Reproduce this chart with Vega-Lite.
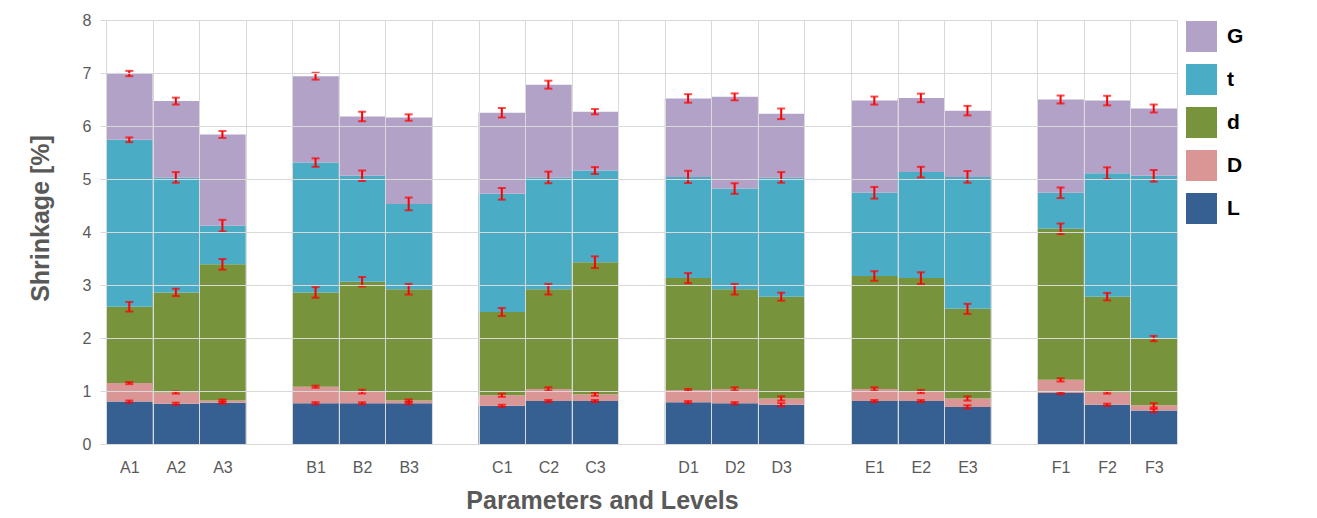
{
  "$schema": "https://vega.github.io/schema/vega-lite/v6.json",
  "width": 1071,
  "height": 424,
  "autosize": {"type": "none"},
  "padding": {"left": 106, "top": 20, "right": 140, "bottom": 74},
  "background": "white",
  "config": {"font": "Liberation Sans", "view": {"stroke": null}},
  "data": {"values": [
    {"level":"A1","comp":"L","ord":1,"value":0.80,"err":0.02},
    {"level":"A1","comp":"D","ord":2,"value":0.35,"err":0.02},
    {"level":"A1","comp":"d","ord":3,"value":1.44,"err":0.09},
    {"level":"A1","comp":"t","ord":4,"value":3.15,"err":0.045},
    {"level":"A1","comp":"G","ord":5,"value":1.25,"err":0.05},
    {"level":"A2","comp":"L","ord":1,"value":0.76,"err":0.02},
    {"level":"A2","comp":"D","ord":2,"value":0.21,"err":0.02},
    {"level":"A2","comp":"d","ord":3,"value":1.89,"err":0.07},
    {"level":"A2","comp":"t","ord":4,"value":2.17,"err":0.1},
    {"level":"A2","comp":"G","ord":5,"value":1.44,"err":0.065},
    {"level":"A3","comp":"L","ord":1,"value":0.78,"err":0.02},
    {"level":"A3","comp":"D","ord":2,"value":0.04,"err":0.02},
    {"level":"A3","comp":"d","ord":3,"value":2.57,"err":0.1},
    {"level":"A3","comp":"t","ord":4,"value":0.73,"err":0.11},
    {"level":"A3","comp":"G","ord":5,"value":1.72,"err":0.065},
    {"level":"B1","comp":"L","ord":1,"value":0.77,"err":0.02},
    {"level":"B1","comp":"D","ord":2,"value":0.31,"err":0.02},
    {"level":"B1","comp":"d","ord":3,"value":1.78,"err":0.1},
    {"level":"B1","comp":"t","ord":4,"value":2.45,"err":0.08},
    {"level":"B1","comp":"G","ord":5,"value":1.63,"err":0.065},
    {"level":"B2","comp":"L","ord":1,"value":0.77,"err":0.02},
    {"level":"B2","comp":"D","ord":2,"value":0.22,"err":0.035},
    {"level":"B2","comp":"d","ord":3,"value":2.07,"err":0.09},
    {"level":"B2","comp":"t","ord":4,"value":2.00,"err":0.1},
    {"level":"B2","comp":"G","ord":5,"value":1.12,"err":0.09},
    {"level":"B3","comp":"L","ord":1,"value":0.77,"err":0.02},
    {"level":"B3","comp":"D","ord":2,"value":0.05,"err":0.02},
    {"level":"B3","comp":"d","ord":3,"value":2.10,"err":0.1},
    {"level":"B3","comp":"t","ord":4,"value":1.61,"err":0.12},
    {"level":"B3","comp":"G","ord":5,"value":1.63,"err":0.06},
    {"level":"C1","comp":"L","ord":1,"value":0.72,"err":0.02},
    {"level":"C1","comp":"D","ord":2,"value":0.20,"err":0.03},
    {"level":"C1","comp":"d","ord":3,"value":1.57,"err":0.075},
    {"level":"C1","comp":"t","ord":4,"value":2.23,"err":0.11},
    {"level":"C1","comp":"G","ord":5,"value":1.53,"err":0.09},
    {"level":"C2","comp":"L","ord":1,"value":0.81,"err":0.02},
    {"level":"C2","comp":"D","ord":2,"value":0.23,"err":0.03},
    {"level":"C2","comp":"d","ord":3,"value":1.88,"err":0.1},
    {"level":"C2","comp":"t","ord":4,"value":2.11,"err":0.11},
    {"level":"C2","comp":"G","ord":5,"value":1.75,"err":0.075},
    {"level":"C3","comp":"L","ord":1,"value":0.81,"err":0.02},
    {"level":"C3","comp":"D","ord":2,"value":0.13,"err":0.03},
    {"level":"C3","comp":"d","ord":3,"value":2.49,"err":0.11},
    {"level":"C3","comp":"t","ord":4,"value":1.73,"err":0.065},
    {"level":"C3","comp":"G","ord":5,"value":1.11,"err":0.05},
    {"level":"D1","comp":"L","ord":1,"value":0.79,"err":0.02},
    {"level":"D1","comp":"D","ord":2,"value":0.23,"err":0.02},
    {"level":"D1","comp":"d","ord":3,"value":2.11,"err":0.095},
    {"level":"D1","comp":"t","ord":4,"value":1.91,"err":0.115},
    {"level":"D1","comp":"G","ord":5,"value":1.48,"err":0.08},
    {"level":"D2","comp":"L","ord":1,"value":0.77,"err":0.02},
    {"level":"D2","comp":"D","ord":2,"value":0.27,"err":0.03},
    {"level":"D2","comp":"d","ord":3,"value":1.88,"err":0.1},
    {"level":"D2","comp":"t","ord":4,"value":1.90,"err":0.1},
    {"level":"D2","comp":"G","ord":5,"value":1.73,"err":0.065},
    {"level":"D3","comp":"L","ord":1,"value":0.74,"err":0.03},
    {"level":"D3","comp":"D","ord":2,"value":0.12,"err":0.04},
    {"level":"D3","comp":"d","ord":3,"value":1.92,"err":0.075},
    {"level":"D3","comp":"t","ord":4,"value":2.25,"err":0.1},
    {"level":"D3","comp":"G","ord":5,"value":1.20,"err":0.1},
    {"level":"E1","comp":"L","ord":1,"value":0.81,"err":0.02},
    {"level":"E1","comp":"D","ord":2,"value":0.23,"err":0.03},
    {"level":"E1","comp":"d","ord":3,"value":2.13,"err":0.09},
    {"level":"E1","comp":"t","ord":4,"value":1.57,"err":0.11},
    {"level":"E1","comp":"G","ord":5,"value":1.74,"err":0.075},
    {"level":"E2","comp":"L","ord":1,"value":0.81,"err":0.02},
    {"level":"E2","comp":"D","ord":2,"value":0.18,"err":0.03},
    {"level":"E2","comp":"d","ord":3,"value":2.14,"err":0.11},
    {"level":"E2","comp":"t","ord":4,"value":2.00,"err":0.1},
    {"level":"E2","comp":"G","ord":5,"value":1.40,"err":0.08},
    {"level":"E3","comp":"L","ord":1,"value":0.70,"err":0.03},
    {"level":"E3","comp":"D","ord":2,"value":0.16,"err":0.04},
    {"level":"E3","comp":"d","ord":3,"value":1.69,"err":0.095},
    {"level":"E3","comp":"t","ord":4,"value":2.49,"err":0.11},
    {"level":"E3","comp":"G","ord":5,"value":1.25,"err":0.09},
    {"level":"F1","comp":"L","ord":1,"value":0.96,"err":0.02},
    {"level":"F1","comp":"D","ord":2,"value":0.25,"err":0.03},
    {"level":"F1","comp":"d","ord":3,"value":2.85,"err":0.1},
    {"level":"F1","comp":"t","ord":4,"value":0.68,"err":0.1},
    {"level":"F1","comp":"G","ord":5,"value":1.76,"err":0.075},
    {"level":"F2","comp":"L","ord":1,"value":0.74,"err":0.02},
    {"level":"F2","comp":"D","ord":2,"value":0.23,"err":0.02},
    {"level":"F2","comp":"d","ord":3,"value":1.81,"err":0.07},
    {"level":"F2","comp":"t","ord":4,"value":2.33,"err":0.11},
    {"level":"F2","comp":"G","ord":5,"value":1.37,"err":0.09},
    {"level":"F3","comp":"L","ord":1,"value":0.63,"err":0.03},
    {"level":"F3","comp":"D","ord":2,"value":0.10,"err":0.04},
    {"level":"F3","comp":"d","ord":3,"value":1.26,"err":0.05},
    {"level":"F3","comp":"t","ord":4,"value":3.07,"err":0.11},
    {"level":"F3","comp":"G","ord":5,"value":1.27,"err":0.075}
  ]},
  "encoding": {
    "x": {
      "field": "level",
      "type": "nominal",
      "title": "Parameters and Levels",
      "scale": {
        "domain": ["A1","A2","A3"," ","B1","B2","B3","  ","C1","C2","C3","   ","D1","D2","D3","    ","E1","E2","E3","     ","F1","F2","F3"],
        "paddingInner": 0,
        "paddingOuter": 0
      },
      "axis": {
        "tickBand": "extent",
        "ticks": false,
        "grid": true,
        "gridColor": "#d9d9d9",
        "gridWidth": 1,
        "domainColor": "#d9d9d9",
        "labelAngle": 0,
        "labelFontSize": 16,
        "labelColor": "#595959",
        "labelPadding": 15,
        "titleFontSize": 25,
        "titleFontWeight": "bold",
        "titleColor": "#595959",
        "titleBaseline": "alphabetic",
        "titleX": 496,
        "titleY": 64,
        "zindex": 1
      }
    }
  },
  "layer": [
    {
      "mark": {"type": "bar", "strokeWidth": 0},
      "encoding": {
        "y": {
          "field": "value",
          "type": "quantitative",
          "stack": "zero",
          "title": "Shrinkage [%]",
          "scale": {"domain": [0, 8], "nice": false},
          "axis": {
            "values": [0,1,2,3,4,5,6,7,8],
            "domain": false,
            "tickColor": "#d9d9d9",
            "tickSize": 6,
            "gridColor": "#d9d9d9",
            "gridWidth": 1,
            "labelFontSize": 16,
            "labelColor": "#595959",
            "labelPadding": 9,
            "titleFontSize": 25,
            "titleFontWeight": "bold",
            "titleColor": "#595959",
            "titleBaseline": "alphabetic",
            "titleX": -58,
            "titleY": 198,
            "zindex": 1
          }
        },
        "order": {"field": "ord", "type": "quantitative", "sort": "ascending"},
        "color": {
          "field": "comp",
          "type": "nominal",
          "scale": {
            "domain": ["G","t","d","D","L"],
            "range": ["#b3a2c7","#4bacc6","#77933c","#d99694","#366092"]
          },
          "legend": {
            "title": null,
            "orient": "none",
            "legendX": 1080,
            "legendY": 1,
            "padding": 0,
            "symbolType": "square",
            "symbolSize": 961,
            "symbolStrokeWidth": 0,
            "rowPadding": 12,
            "labelOffset": 10,
            "labelFontSize": 21,
            "labelFontWeight": "bold",
            "labelColor": "#000000"
          }
        }
      }
    },
    {
      "transform": [
        {"stack": "value", "groupby": ["level"], "sort": [{"field": "ord", "order": "ascending"}], "as": ["s0", "s1"]}
      ],
      "mark": {"type": "errorbar", "ticks": true, "color": "#ff0000", "thickness": 2, "size": 8},
      "encoding": {
        "y": {"field": "s1", "type": "quantitative", "title": "Shrinkage [%]"},
        "yError": {"field": "err"}
      }
    }
  ]
}
